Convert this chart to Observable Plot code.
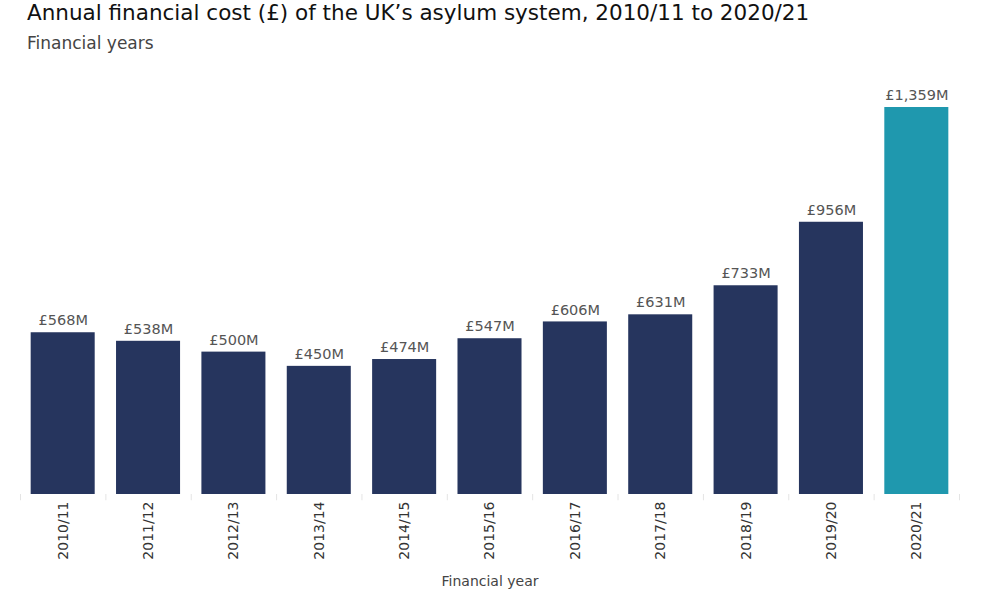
<!DOCTYPE html>
<html>
<head>
<meta charset="utf-8">
<script src="https://cdn.jsdelivr.net/npm/d3@7"></script>
<script src="https://cdn.jsdelivr.net/npm/@observablehq/plot@0.6"></script>
<style>
  body { margin: 0; background: #fff; font-family: "DejaVu Sans", sans-serif; }
  #head { height: 60px; position: relative; }
  #title { position: absolute; left: 27px; top: 0px; font-size: 21.5px; color: #111; white-space: nowrap; }
  #subtitle { position: absolute; left: 27px; top: 33px; font-size: 17px; color: #444; white-space: nowrap; }
</style>
</head>
<body>
<div id="head">
  <div id="title">Annual financial cost (£) of the UK’s asylum system, 2010/11 to 2020/21</div>
  <div id="subtitle">Financial years</div>
</div>
<div id="chart"></div>
<script>
const years = ["2010/11","2011/12","2012/13","2013/14","2014/15","2015/16","2016/17","2017/18","2018/19","2019/20","2020/21"];
const costs = [568, 538, 500, 450, 474, 547, 606, 631, 733, 956, 1359];
const highlightYear = "2020/21";
const navy = "#26355e";
const teal = "#1f98ae";

const data = years.map((y, i) => ({year: y, cost: costs[i]}));
const fmt = d3.format(",");

const W = 989, H = 540, mL = 20, mR = 30, mT = 47, mB = 106;
const step = (W - mL - mR) / years.length;

const chart = Plot.plot({
  width: W,
  height: H,
  marginLeft: mL,
  marginRight: mR,
  marginTop: mT,
  marginBottom: mB,
  style: {fontFamily: "DejaVu Sans, sans-serif", fontSize: "13px", color: "#333", background: "#fff"},
  x: {domain: years, paddingInner: 0.25, paddingOuter: 0.125, round: false, label: null},
  y: {domain: [0, 1359], axis: null},
  marks: [
    Plot.barY(data, {x: "year", y: "cost", fill: d => d.year === highlightYear ? teal : navy}),
    Plot.ruleX(years, {x: d => d, y1: 0, y2: -22, dx: -step / 2, stroke: "#e4e4e4"}),
    Plot.ruleX([years[years.length - 1]], {x: d => d, y1: 0, y2: -22, dx: step / 2, stroke: "#e4e4e4"}),
    Plot.text(data, {x: "year", y: "cost", text: d => "£" + fmt(d.cost) + "M", dy: -12, fill: "#555", fontSize: 14.5}),
    Plot.axisX({tickSize: 0, tickPadding: 7, tickRotate: -90, fontSize: 14, fill: "#333", label: null}),
    Plot.text(["Financial year"], {frameAnchor: "bottom", dy: mB - 15, fill: "#444", fontSize: 14})
  ]
});
document.getElementById("chart").appendChild(chart);
</script>
</body>
</html>
